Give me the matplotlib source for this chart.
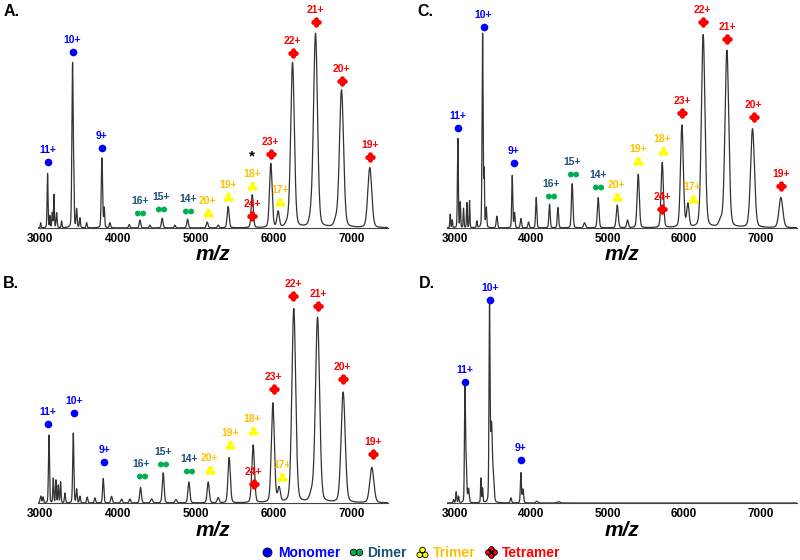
import numpy as np
import matplotlib.pyplot as plt
from matplotlib.path import Path
from matplotlib.lines import Line2D

plt.rcParams['font.family'] = ['Liberation Sans', 'DejaVu Sans']

# ---- panel A: peak centre (m/z), height (% base peak), FWHM (m/z)
a_mz = [3009, 3098, 3128, 3158, 3180, 3214, 3278, 3419, 3436, 3471, 3513, 3599,
        3796, 3826, 3899, 4147, 4284, 4412, 4570, 4733, 4896, 5148, 5289, 5417,
        5726, 5965, 6059, 6180, 6244, 6480, 6539, 6800, 6873, 7236]
a_int = [2.6, 28, 6, 7.7, 17, 7.7, 3.4, 85, 19, 9.4, 5, 2.6,
         36, 10, 2.6, 1.7, 4, 1.4, 5, 1.4, 4.5, 3, 1.4, 11,
         17, 33, 8, 2, 85, 4, 100, 3, 71, 31]
a_fwhm = [12, 14, 12, 14, 12, 16, 14, 20, 10, 16, 16, 16,
          20, 14, 20, 20, 22, 20, 24, 20, 24, 26, 24, 30,
          32, 40, 36, 60, 55, 50, 60, 50, 62, 60]
a_ann_mz = [3107, 3419, 3796, 4284, 4561, 4904, 5152, 5417, 5726, 5726, 5965, 6081,
            6244, 6539, 6873, 7245]
a_ann_y = [34, 91, 41, 7.7, 9.6, 8.7, 7.7, 16, 21.4, 6, 38, 13.4, 90, 106, 76, 36.5]
a_ann_txt = ['11+', '10+', '9+', '16+', '15+', '14+', '20+', '19+', '18+', '24+', '23+',
             '17+', '22+', '21+', '20+', '19+']
a_ann_kind = 'MMMDDDTTTQQTQQQQ'

# ---- panel B
b_mz = [3010, 3040, 3116, 3171, 3205, 3235, 3265, 3321, 3428, 3471, 3513, 3607,
        3706, 3813, 3920, 4048, 4155, 4292, 4434, 4583, 4746, 4913, 5161, 5289,
        5430, 5738, 5991, 6071, 6260, 6490, 6565, 6894, 7262]
b_int = [3.5, 3, 35, 12.6, 11.7, 9, 10.8, 5, 36, 7, 3.4, 3,
         2.6, 12.6, 3.4, 2, 2, 8, 2, 15.5, 1.7, 10.7, 10.8, 2.6,
         23.4, 29.8, 51.3, 7.2, 100, 4, 95.5, 57, 18.2]
b_fwhm = [20, 15, 16, 14, 14, 14, 14, 16, 18, 16, 16, 20,
          20, 20, 24, 24, 24, 26, 30, 28, 30, 30, 32, 30,
          36, 40, 46, 40, 58, 60, 62, 62, 62]
b_ann_mz = [3099, 3436, 3826, 4305, 4583, 4917, 5182, 5439, 5730, 5747, 6000, 6115,
            6252, 6573, 6886, 7279]
b_ann_y = [41, 46.5, 21, 13.8, 20.3, 16.4, 16.9, 30, 37, 10, 58.7, 13.4, 107, 101.7, 64, 25.5]
b_ann_txt = a_ann_txt
b_ann_kind = a_ann_kind

# ---- panel C
c_mz = [2934, 2960, 3035, 3066, 3109, 3153, 3188, 3284, 3359, 3380, 3407, 3546,
        3748, 3778, 3862, 3962, 4062, 4237, 4347, 4534, 4696, 4875, 5125, 5260,
        5400, 5715, 5973, 6052, 6252, 6480, 6563, 6899, 7271]
c_int = [7, 4, 46, 13, 10, 13, 14, 3.4, 100, 28, 10, 6,
         27, 7.7, 4.8, 3, 15.6, 12.2, 10.5, 22.8, 2.6, 15.6, 11.7, 4,
         27.6, 33.6, 52.7, 11.7, 99.5, 3, 91.4, 51, 15.6]
c_fwhm = [12, 12, 14, 12, 12, 12, 12, 14, 16, 12, 16, 20,
          16, 16, 20, 20, 18, 20, 20, 24, 30, 26, 30, 26,
          34, 36, 44, 36, 55, 50, 58, 60, 60]
c_ann_mz = [3035, 3372, 3765, 4255, 4539, 4875, 5120, 5396, 5719, 5715, 5973, 6113,
            6244, 6563, 6913, 7271]
c_ann_y = [51.5, 103.8, 33.3, 16.5, 27.8, 21.1, 16, 34.5, 39.6, 9.6, 59.2, 14.8,
           106, 97.4, 57.1, 21.6]
c_ann_txt = a_ann_txt
c_ann_kind = a_ann_kind

# ---- panel D
d_mz = [2978, 3013, 3044, 3127, 3142, 3175, 3337, 3359, 3450, 3476, 3503,
        3730, 3861, 3888, 4071, 4355]
d_int = [1.7, 5.7, 3.4, 57, 22, 7, 12.6, 7.4, 100, 40, 10,
         2.6, 15.5, 7, 0.9, 0.7]
d_fwhm = [15, 15, 15, 14, 20, 20, 12, 14, 16, 28, 22,
          20, 16, 20, 30, 40]
d_ann_mz = [3127, 3459, 3861]
d_ann_y = [62.6, 104.8, 22]
d_ann_txt = ['11+', '10+', '9+']
d_ann_kind = 'MMM'

species = ['Monomer', 'Dimer', 'Trimer', 'Tetramer']


def blob(centres, r):
    return Path.make_compound_path(*[Path.circle(c, r) for c in centres])


MARKER = {'M': 'o',
          'D': blob([(-0.5, 0), (0.5, 0)], 0.55),
          'T': blob([(-0.5, -0.42), (0.5, -0.42), (0, 0.45)], 0.5),
          'Q': blob([(0, 0.55), (0, -0.55), (-0.55, 0), (0.55, 0)], 0.5)}
MSIZE = {'M': 5.5, 'D': 8, 'T': 7, 'Q': 7.5}
FILL = {'M': '#0000ff', 'D': '#00b050', 'T': '#ffff00', 'Q': '#ff0000'}
TXT = {'M': '#0000ff', 'D': '#1f4e79', 'T': '#ffc000', 'Q': '#ff0000'}


def spectrum(x, centres, heights, fwhm):
    y = np.zeros_like(x)
    for c, h, w in zip(centres, heights, fwhm):
        u = (x - c) / w
        y += h * (0.8 * np.exp(-4 * np.log(2) * u ** 2) + 0.2 / (1 + 4 * u ** 2))
    return y


def panel(rect, xlim, mz, inten, fwhm, ann_mz, ann_y, ann_txt, ann_kind):
    ax = fig.add_axes(rect)
    x = np.linspace(xlim[0], xlim[1], 8000)
    ax.plot(x, spectrum(x, mz, inten, fwhm), color='#333333', lw=0.9)
    for m, y, t, k in zip(ann_mz, ann_y, ann_txt, ann_kind):
        ax.plot(m, y, ls='none', marker=MARKER[k], ms=MSIZE[k], color=FILL[k],
                mec='none', clip_on=False)
        ax.annotate(t, (m, y), xytext=(0, 6.5), textcoords='offset points',
                    ha='center', va='baseline', fontsize=7.5, fontweight='bold',
                    color=TXT[k], annotation_clip=False)
    ax.set_xlim(xlim)
    ax.set_ylim(0, 115)
    for s in ['left', 'right', 'top']:
        ax.spines[s].set_visible(False)
    ax.spines['bottom'].set_color('#444444')
    ax.set_yticks([])
    ax.set_xticks([3000, 4000, 5000, 6000, 7000])
    ax.tick_params(axis='x', length=0, pad=3.5, labelsize=8.5)
    for lab in ax.get_xticklabels():
        lab.set_fontweight('bold')
    ax.set_xlabel('m/z', fontsize=15, fontweight='bold', style='italic', labelpad=0.5)
    return ax


fig = plt.figure(figsize=(8, 5.6), dpi=100)

axA = panel([0.0475, 0.593, 0.4375, 0.398], (2975, 7470),
            a_mz, a_int, a_fwhm, a_ann_mz, a_ann_y, a_ann_txt, a_ann_kind)
axA.text(5726, 37, '*', ha='center', va='center', fontsize=11, fontweight='bold')
panel([0.0475, 0.1018, 0.4375, 0.398], (2975, 7470),
      b_mz, b_int, b_fwhm, b_ann_mz, b_ann_y, b_ann_txt, b_ann_kind)
panel([0.559, 0.593, 0.4375, 0.398], (2895, 7485),
      c_mz, c_int, c_fwhm, c_ann_mz, c_ann_y, c_ann_txt, c_ann_kind)
panel([0.559, 0.1018, 0.4375, 0.398], (2895, 7485),
      d_mz, d_int, d_fwhm, d_ann_mz, d_ann_y, d_ann_txt, d_ann_kind)

for lbl, fx, fy in [('A.', 0.004, 0.992), ('B.', 0.004, 0.508),
                    ('C.', 0.522, 0.992), ('D.', 0.524, 0.508)]:
    fig.text(fx, fy, lbl, ha='left', va='top', fontsize=11.5, fontweight='bold')

handles = [Line2D([], [], ls='none', marker=MARKER[k], ms=MSIZE[k] + 1, mfc=FILL[k],
                  mec='black', mew=0.6) for k in 'MDTQ']
leg = fig.legend(handles, species, loc='center', bbox_to_anchor=(0.514, 0.013), ncol=4,
                 frameon=False, prop=dict(weight='bold', size=10), handlelength=0.8,
                 handletextpad=0.4, columnspacing=0.7, borderpad=0)
for t, k in zip(leg.get_texts(), 'MDTQ'):
    t.set_color(TXT[k])

fig.savefig('out.png', dpi=100)
